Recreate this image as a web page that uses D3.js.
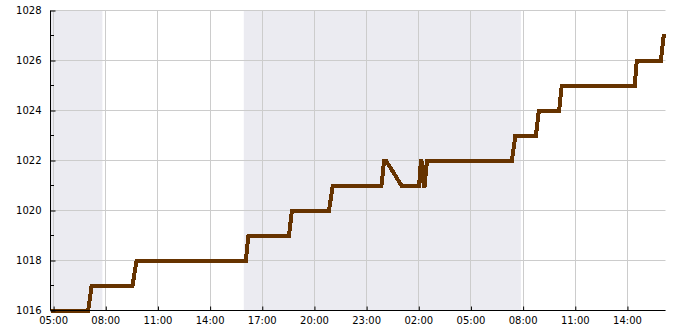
<!DOCTYPE html>
<html>
<head>
<meta charset="utf-8">
<script src="https://cdn.jsdelivr.net/npm/d3@7"></script>
<style>
  html, body { margin: 0; padding: 0; background: #fff; }
  svg { display: block; font-family: "DejaVu Sans", sans-serif; }
</style>
</head>
<body>
<svg id="chart" width="685" height="330"></svg>
<script>
// ---- data ----
const domainStart = "2024-01-10T04:51";
const domainEnd = "2024-01-11T16:13";

const times = [
  "2024-01-10T04:51", "2024-01-10T07:01", "2024-01-10T07:13", "2024-01-10T09:34",
  "2024-01-10T09:48", "2024-01-10T16:05", "2024-01-10T16:14", "2024-01-10T18:34",
  "2024-01-10T18:44", "2024-01-10T20:52", "2024-01-10T21:05", "2024-01-10T23:53",
  "2024-01-11T00:02", "2024-01-11T00:08", "2024-01-11T00:30", "2024-01-11T01:02",
  "2024-01-11T02:03", "2024-01-11T02:09", "2024-01-11T02:11", "2024-01-11T02:19",
  "2024-01-11T02:22", "2024-01-11T02:30", "2024-01-11T07:23", "2024-01-11T07:35",
  "2024-01-11T08:46", "2024-01-11T08:56", "2024-01-11T10:06", "2024-01-11T10:15",
  "2024-01-11T14:27", "2024-01-11T14:34", "2024-01-11T15:57", "2024-01-11T16:07",
  "2024-01-11T16:13"
];
const pressure = [
  1016, 1016, 1017, 1017,
  1018, 1018, 1019, 1019,
  1020, 1020, 1021, 1021,
  1022, 1022, 1021.6, 1021,
  1021, 1022, 1022, 1021,
  1021, 1022, 1022, 1023,
  1023, 1024, 1024, 1025,
  1025, 1026, 1026, 1027,
  1027
];

const nightStarts = ["2024-01-10T04:51", "2024-01-10T15:58"];
const nightEnds   = ["2024-01-10T07:50", "2024-01-11T07:54"];

const yMajorTicks = [1016, 1018, 1020, 1022, 1024, 1026, 1028];
const yMinorTicks = [1017, 1019, 1021, 1023, 1025, 1027];
const xTickTimes = [
  "2024-01-10T05:00", "2024-01-10T08:00", "2024-01-10T11:00", "2024-01-10T14:00",
  "2024-01-10T17:00", "2024-01-10T20:00", "2024-01-10T23:00", "2024-01-11T02:00",
  "2024-01-11T05:00", "2024-01-11T08:00", "2024-01-11T11:00", "2024-01-11T14:00"
];

// ---- layout ----
const W = 685, H = 330;
const margin = { left: 50.5, right: 19.5, top: 10.5, bottom: 19.5 };
const parse = d3.utcParse("%Y-%m-%dT%H:%M");
const fmt = d3.utcFormat("%H:%M");

const svg = d3.select("#chart");
const x = d3.scaleUtc()
  .domain([parse(domainStart), parse(domainEnd)])
  .range([margin.left, W - margin.right]);
const y = d3.scaleLinear()
  .domain([1016, 1028])
  .range([H - margin.bottom, margin.top]);

const data = times.map((t, i) => ({ t: parse(t), v: pressure[i] }));

// night shading
svg.append("g").selectAll("rect")
  .data(nightStarts.map((s, i) => ({ s: parse(s), e: parse(nightEnds[i]) })))
  .join("rect")
  .attr("x", d => x(d.s))
  .attr("width", d => x(d.e) - x(d.s))
  .attr("y", y(1028))
  .attr("height", y(1016) - y(1028))
  .attr("fill", "#ebebf1");

// grid
const xt = xTickTimes.map(parse);
svg.append("g").selectAll("line")
  .data(xt).join("line")
  .attr("x1", d => Math.round(x(d)) + 0.5).attr("x2", d => Math.round(x(d)) + 0.5)
  .attr("y1", y(1028)).attr("y2", y(1016))
  .attr("stroke", "#cccccc").attr("stroke-width", 1);
svg.append("g").selectAll("line")
  .data(yMajorTicks).join("line")
  .attr("x1", x.range()[0]).attr("x2", x.range()[1])
  .attr("y1", d => y(d)).attr("y2", d => y(d))
  .attr("stroke", "#cccccc").attr("stroke-width", 1);

// line
const line = d3.line().x(d => x(d.t)).y(d => y(d.v));
svg.append("path")
  .datum(data)
  .attr("d", line)
  .attr("fill", "none")
  .attr("stroke", "#663300")
  .attr("stroke-width", 4)
  .attr("stroke-linejoin", "miter")
  .attr("shape-rendering", "crispEdges");

// axes
const yAxis = d3.axisLeft(y).tickValues(yMajorTicks).tickSize(-5).tickPadding(9)
  .tickFormat(d3.format("d"));
const gy = svg.append("g").attr("transform", `translate(${margin.left},0)`).call(yAxis);
gy.select(".domain").attr("d", `M0,${y(1028)}V${y(1016)}`);
gy.selectAll("text").attr("font-size", 10).attr("fill", "#000").attr("font-family", "DejaVu Sans");
gy.append("g").selectAll("line").data(yMinorTicks).join("line")
  .attr("x1", 0).attr("x2", 3.5)
  .attr("y1", d => y(d)).attr("y2", d => y(d))
  .attr("stroke", "#000");

const xAxis = d3.axisBottom(x).tickValues(xt).tickSize(-4).tickPadding(6).tickFormat(fmt);
const gx = svg.append("g").attr("transform", `translate(0,${H - margin.bottom})`).call(xAxis);
gx.select(".domain").attr("d", `M${x.range()[0]},0H${x.range()[1]}`);
gx.selectAll(".tick line").attr("transform", "translate(0.5,0)");
gx.selectAll("text").attr("font-size", 10).attr("fill", "#000").attr("font-family", "DejaVu Sans");
</script>
</body>
</html>
